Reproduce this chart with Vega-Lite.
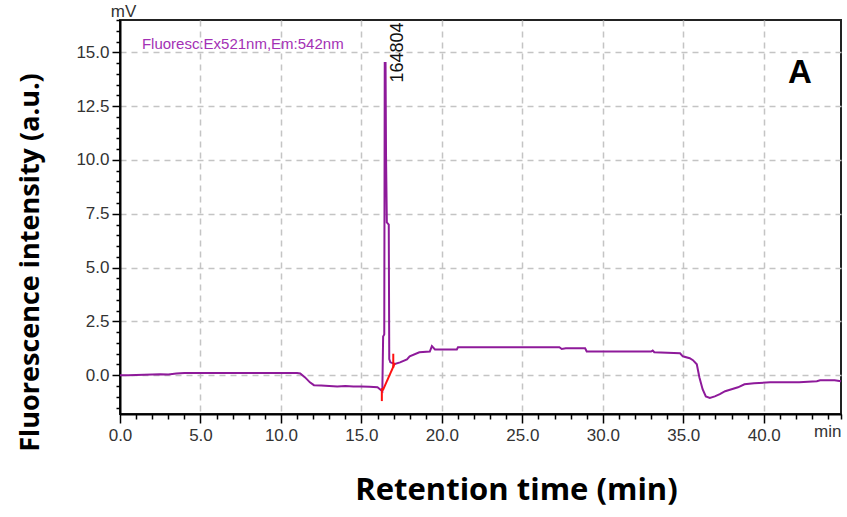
{
  "$schema": "https://vega.github.io/schema/vega-lite/v6.json",
  "width": 721,
  "height": 394,
  "autosize": {"type": "none"},
  "padding": {"left": 120, "top": 20, "right": 6, "bottom": 103},
  "background": "white",
  "config": {
    "view": {"stroke": "#222", "strokeWidth": 2},
    "axis": {
      "domainColor": "#000", "domainWidth": 2,
      "tickColor": "#000", "tickWidth": 1.5,
      "labelFont": "Liberation Sans", "labelFontSize": 17, "labelColor": "#333",
      "labelFlush": false, "labelOverlap": false,
      "grid": true, "gridColor": "#c4c4c4", "gridDash": [6, 5], "gridWidth": 1.5,
      "titleFont": "Open Sans", "titleFontWeight": "bold", "titleColor": "#000"
    }
  },
  "datasets": {
    "trace": [
      {"t": 0, "v": 0}, {"t": 0.5, "v": 0}, {"t": 1.5, "v": 0.02}, {"t": 2.5, "v": 0.05}, {"t": 3.0, "v": 0.03},
      {"t": 3.5, "v": 0.08}, {"t": 4.0, "v": 0.1}, {"t": 5.0, "v": 0.1}, {"t": 6.0, "v": 0.1}, {"t": 7.0, "v": 0.1},
      {"t": 8.0, "v": 0.1}, {"t": 9.0, "v": 0.1}, {"t": 10.0, "v": 0.1}, {"t": 11.0, "v": 0.1}, {"t": 11.2, "v": 0.08},
      {"t": 11.5, "v": -0.1}, {"t": 11.8, "v": -0.33}, {"t": 12.05, "v": -0.46}, {"t": 12.5, "v": -0.48}, {"t": 13.0, "v": -0.5},
      {"t": 13.5, "v": -0.52}, {"t": 14.0, "v": -0.5}, {"t": 14.5, "v": -0.52}, {"t": 15.0, "v": -0.52}, {"t": 15.5, "v": -0.54},
      {"t": 16.0, "v": -0.56}, {"t": 16.3, "v": -0.74}, {"t": 16.35, "v": 1.8}, {"t": 16.42, "v": 1.9}, {"t": 16.45, "v": 14.5},
      {"t": 16.5, "v": 14.5}, {"t": 16.53, "v": 10.2}, {"t": 16.58, "v": 7.1}, {"t": 16.7, "v": 7.0}, {"t": 16.73, "v": 0.75},
      {"t": 16.8, "v": 0.6}, {"t": 17.08, "v": 0.52}, {"t": 17.4, "v": 0.6}, {"t": 17.83, "v": 0.74}, {"t": 18.0, "v": 0.88},
      {"t": 18.6, "v": 1.07}, {"t": 19.25, "v": 1.1}, {"t": 19.38, "v": 1.35}, {"t": 19.57, "v": 1.2}, {"t": 20.93, "v": 1.2},
      {"t": 21.0, "v": 1.3}, {"t": 27.3, "v": 1.3}, {"t": 27.45, "v": 1.22}, {"t": 27.7, "v": 1.25}, {"t": 28.9, "v": 1.25},
      {"t": 29.0, "v": 1.1}, {"t": 33.0, "v": 1.1}, {"t": 33.1, "v": 1.15}, {"t": 33.2, "v": 1.07}, {"t": 34.8, "v": 1.02},
      {"t": 34.97, "v": 0.88}, {"t": 35.4, "v": 0.79}, {"t": 35.6, "v": 0.7}, {"t": 35.84, "v": 0.51}, {"t": 36.0, "v": -0.09},
      {"t": 36.2, "v": -0.65}, {"t": 36.4, "v": -0.98}, {"t": 36.65, "v": -1.05}, {"t": 36.96, "v": -0.98}, {"t": 37.27, "v": -0.88},
      {"t": 37.6, "v": -0.74}, {"t": 38.0, "v": -0.65}, {"t": 38.4, "v": -0.56}, {"t": 38.8, "v": -0.42}, {"t": 39.4, "v": -0.37},
      {"t": 40.4, "v": -0.33}, {"t": 42.2, "v": -0.33}, {"t": 43.3, "v": -0.28}, {"t": 43.5, "v": -0.23}, {"t": 44.4, "v": -0.23},
      {"t": 44.8, "v": -0.28}
    ],
    "baseline": [
      {"t": 16.33, "v": -0.7}, {"t": 17.08, "v": 0.56}
    ],
    "markers": [
      {"t": 16.27, "v": -0.6, "v2": -1.2},
      {"t": 16.98, "v": 1.0, "v2": 0.35}
    ],
    "legendText": [{"t": 1.36, "v": 15.14, "label": "Fluoresc:Ex521nm,Em:542nm"}],
    "peakText": [{"t": 17.27, "v": 13.6, "label": "164804"}],
    "panelText": [{"t": 42.24, "v": 13.56, "label": "A"}]
  },
  "encoding": {
    "x": {
      "field": "t", "type": "quantitative",
      "scale": {"domain": [0, 44.8], "nice": false, "zero": false},
      "axis": {
        "values": [0,1,2,3,4,5,6,7,8,9,10,11,12,13,14,15,16,17,18,19,20,21,22,23,24,25,26,27,28,29,30,31,32,33,34,35,36,37,38,39,40,41,42,43,44,44.8],
        "labelExpr": "datum.value > 44.5 ? 'min' : (datum.value % 5 === 0 ? format(datum.value, '.1f') : '')",
        "labelAlign": {"condition": {"test": "datum.value > 44.5", "value": "right"}, "value": "center"},
        "tickSize": {"condition": {"test": "datum.value % 5 === 0", "value": 9}, "value": 5},
        "gridOpacity": {"condition": {"test": "datum.value % 5 === 0 && datum.value > 0", "value": 1}, "value": 0},
        "labelPadding": 4,
        "title": "Retention time (min)",
        "titleFontSize": 31,
        "titleX": 396, "titleY": 76,
        "titleAlign": "center", "titleBaseline": "middle"
      }
    },
    "y": {
      "field": "v", "type": "quantitative",
      "scale": {"domain": [-1.8, 16.5], "nice": false, "zero": false},
      "axis": {
        "values": [-1.5,-1,-0.5,0,0.5,1,1.5,2,2.5,3,3.5,4,4.5,5,5.5,6,6.5,7,7.5,8,8.5,9,9.5,10,10.5,11,11.5,12,12.5,13,13.5,14,14.5,15,15.5,16,16.5],
        "labelExpr": "datum.value > 16.2 ? 'mV' : (datum.value % 2.5 === 0 ? format(datum.value, '.1f') : '')",
        "labelAlign": {"condition": {"test": "datum.value > 16.2", "value": "center"}, "value": "right"},
        "labelBaseline": {"condition": {"test": "datum.value > 16.2", "value": "bottom"}, "value": "middle"},
        "labelPadding": {"condition": {"test": "datum.value > 16.2", "value": -7}, "value": 3},
        "tickSize": {"condition": {"test": "datum.value % 2.5 === 0", "value": 8}, "value": 4},
        "gridOpacity": {"condition": {"test": "datum.value % 2.5 === 0", "value": 1}, "value": 0},
        "title": "Fluorescence intensity (a.u.)",
        "titleFontSize": 27,
        "titleAngle": -90,
        "titleX": -90, "titleY": 242,
        "titleAlign": "center", "titleBaseline": "middle"
      }
    }
  },
  "layer": [
    {
      "data": {"name": "trace"},
      "mark": {"type": "line", "color": "#8e1a9a", "strokeWidth": 2}
    },
    {
      "data": {"name": "baseline"},
      "mark": {"type": "line", "color": "#ff1010", "strokeWidth": 2}
    },
    {
      "data": {"name": "markers"},
      "mark": {"type": "rule", "color": "#ff1010", "strokeWidth": 2},
      "encoding": {"y2": {"field": "v2"}}
    },
    {
      "data": {"name": "legendText"},
      "mark": {"type": "text", "align": "left", "baseline": "alphabetic", "font": "Liberation Sans", "fontSize": 15, "color": "#a331b5"},
      "encoding": {"text": {"field": "label"}}
    },
    {
      "data": {"name": "peakText"},
      "mark": {"type": "text", "align": "left", "baseline": "middle", "angle": 270, "font": "Liberation Sans", "fontSize": 18, "color": "#111"},
      "encoding": {"text": {"field": "label"}}
    },
    {
      "data": {"name": "panelText"},
      "mark": {"type": "text", "align": "center", "baseline": "alphabetic", "font": "Liberation Sans", "fontWeight": "bold", "fontSize": 33, "color": "#000"},
      "encoding": {"text": {"field": "label"}}
    }
  ]
}
